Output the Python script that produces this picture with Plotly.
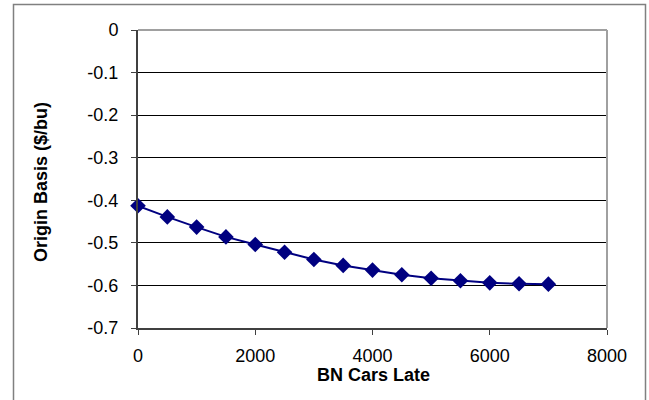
import plotly.graph_objects as go

# Data
cars_late = [0, 500, 1000, 1500, 2000, 2500, 3000, 3500, 4000, 4500, 5000, 5500, 6000, 6500, 7000]
origin_basis = [-0.413, -0.439, -0.463, -0.486, -0.504, -0.522, -0.539, -0.553, -0.564,
                -0.575, -0.583, -0.589, -0.594, -0.596, -0.597]

y_tickvals = [0, -0.1, -0.2, -0.3, -0.4, -0.5, -0.6, -0.7]
y_ticktext = ["0", "-0.1", "-0.2", "-0.3", "-0.4", "-0.5", "-0.6", "-0.7"]
x_tickvals = [0, 2000, 4000, 6000, 8000]
x_ticktext = ["0", "2000", "4000", "6000", "8000"]

W, H = 649, 400
L, R, T, B = 138, 42, 30, 72
pw, ph = W - L - R, H - T - B

def px_x(p):
    return (p - L) / pw

def px_y(p):
    return 1 - (p - T) / ph

font = "Liberation Sans, Arial, sans-serif"

fig = go.Figure()
fig.add_trace(go.Scatter(
    x=cars_late, y=origin_basis, mode="lines+markers",
    line=dict(color="#000080", width=2),
    marker=dict(symbol="diamond", size=12, color="#000080"),
    cliponaxis=False, showlegend=False,
))

fig.update_layout(
    width=W, height=H,
    margin=dict(l=L, r=R, t=T, b=B),
    paper_bgcolor="white", plot_bgcolor="white",
    font=dict(family=font, size=18, color="black"),
    xaxis=dict(
        range=[0, 8000], tickvals=x_tickvals, ticktext=x_ticktext,
        showgrid=False, zeroline=False,
        showline=True, linecolor="#404040", linewidth=2,
        ticks="outside", ticklen=5, tickcolor="#404040", tickwidth=1,
        ticklabelstandoff=5,
        tickfont=dict(size=18),
    ),
    yaxis=dict(
        range=[-0.7, 0], tickvals=y_tickvals, ticktext=y_ticktext,
        showgrid=True, gridcolor="black", gridwidth=1, zeroline=False,
        showline=True, linecolor="#404040", linewidth=2,
        ticks="outside", ticklen=5, tickcolor="#404040", tickwidth=1,
        ticklabelstandoff=9,
        tickfont=dict(size=18),
    ),
    annotations=[
        dict(text="<b>BN Cars Late</b>", xref="paper", yref="paper",
             x=px_x(373), y=px_y(375), xanchor="center", yanchor="middle",
             showarrow=False, font=dict(size=18)),
        dict(text="<b>Origin Basis ($/bu)</b>", xref="paper", yref="paper",
             x=px_x(41), y=px_y(182), xanchor="center", yanchor="middle",
             textangle=-90, showarrow=False, font=dict(size=18)),
    ],
    shapes=[
        # plot area top and right border (gray)
        dict(type="line", xref="paper", yref="paper", x0=0, x1=1, y0=1, y1=1,
             line=dict(color="#a0a0a0", width=2), layer="above"),
        dict(type="line", xref="paper", yref="paper", x0=1, x1=1, y0=0, y1=1,
             line=dict(color="#a0a0a0", width=2), layer="above"),
        # outer chart frame
        dict(type="rect", xref="paper", yref="paper",
             x0=px_x(13.5), x1=px_x(645.5), y0=px_y(410), y1=px_y(4.5),
             line=dict(color="#808080", width=1.5), layer="below"),
    ],
)

fig.write_html("out.html")
